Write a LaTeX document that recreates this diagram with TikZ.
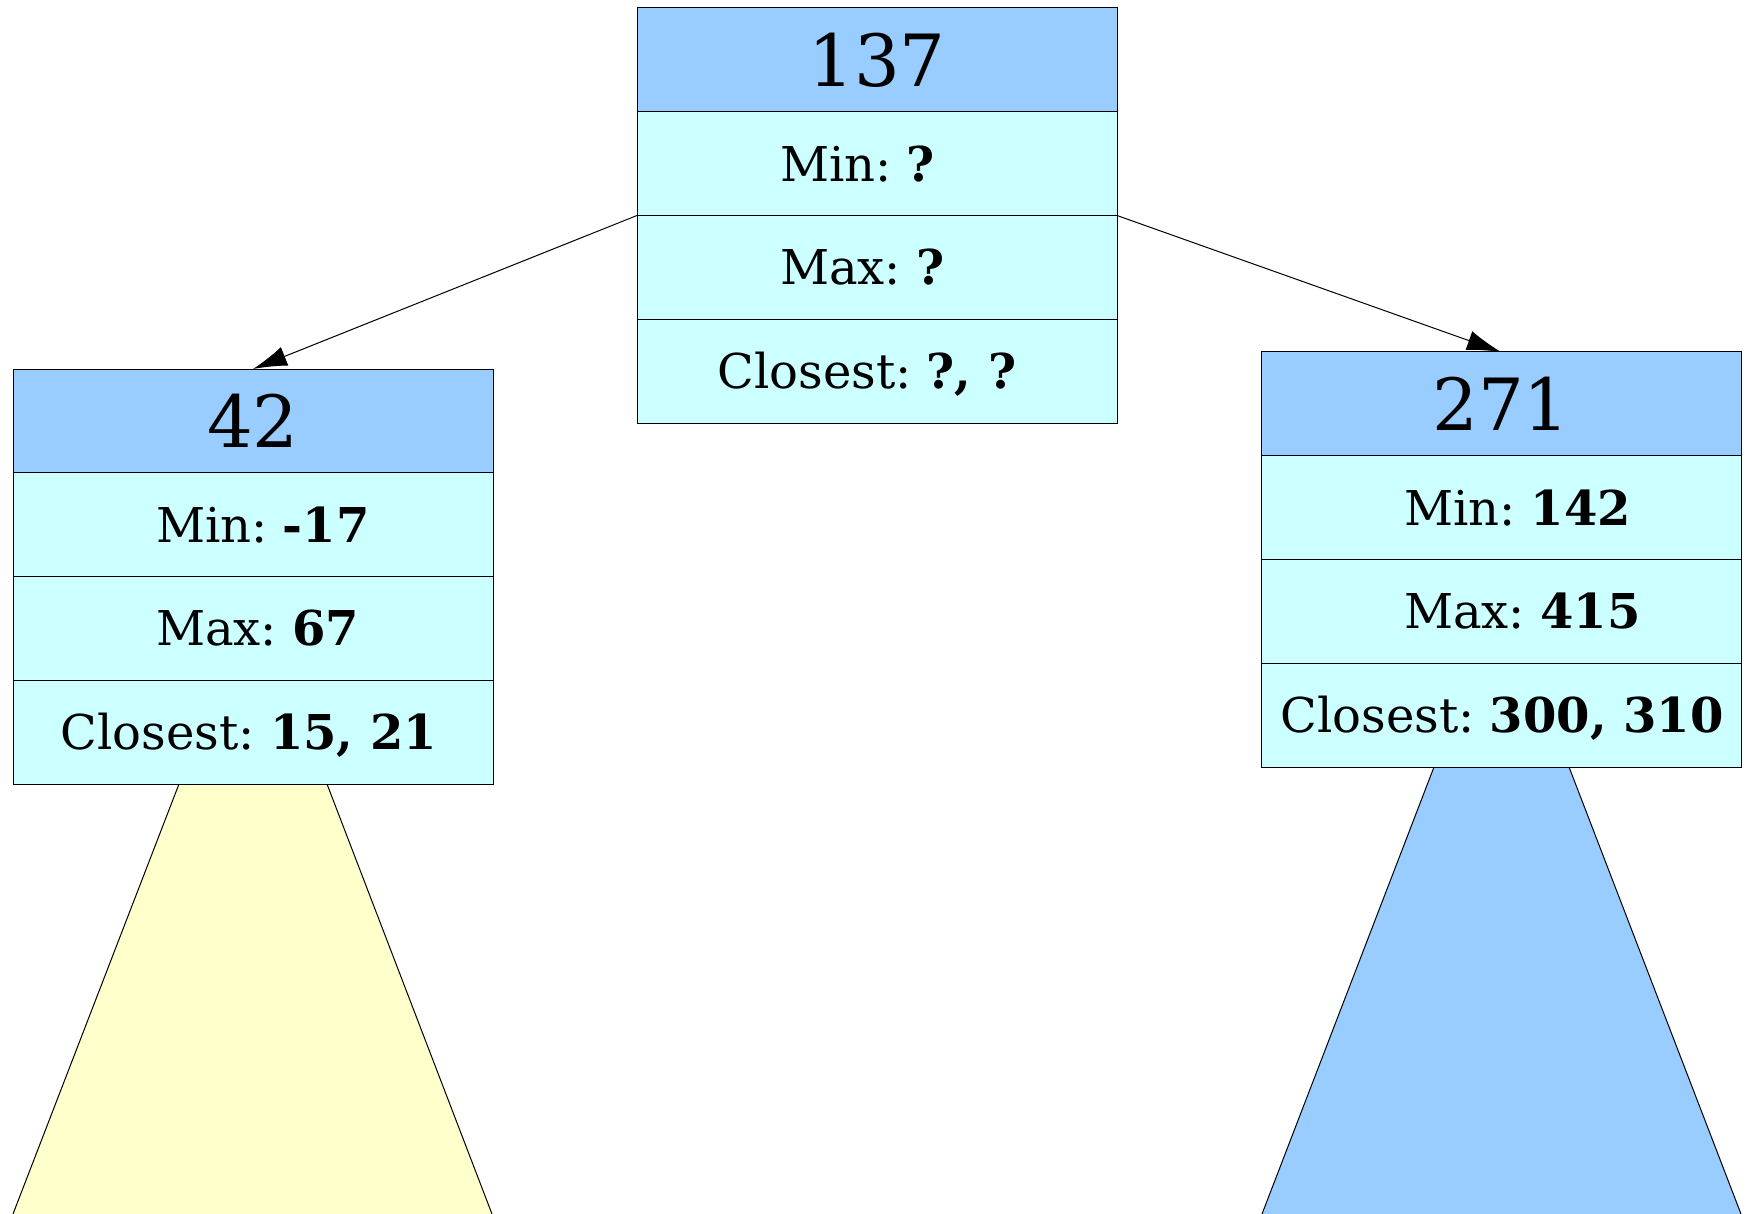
\documentclass[tikz,border=0pt]{standalone}
\usepackage{fontspec}
\setmainfont{DejaVu Serif}
\usetikzlibrary{arrows.meta}
\definecolor{headblue}{HTML}{99CCFF}
\definecolor{rowcyan}{HTML}{CCFFFF}
\definecolor{subyellow}{HTML}{FFFFCC}
\frenchspacing
\begin{document}
\begin{tikzpicture}[x=0.5pt,y=-0.5pt,
  cell/.style={draw=black, line width=0.5pt, minimum width=240pt, minimum height=51.875pt, inner sep=0pt, outer sep=0pt, anchor=north west},
  headcell/.style={cell, fill=headblue, font=\fontsize{36}{40}\selectfont},
  rowcell/.style={cell, fill=rowcyan},
  txt/.style={inner sep=0pt, outer sep=0pt, font=\fontsize{24}{28}\selectfont\frenchspacing, text height=17.5pt, text depth=0pt},
  ltxt/.style={txt, anchor=west},
  edge/.style={line width=0.5pt, -{Latex[length=17pt,width=10pt]}},
  sidestroke/.style={line width=0.5pt, draw=black}
]
\useasboundingbox (0,0) rectangle (1746,1214);

% subtrees
\fill[subyellow] (179,784) -- (327,784) -- (492,1214) -- (13,1214) -- cycle;
\draw[sidestroke] (179,784) -- (13,1214);
\draw[sidestroke] (327,784) -- (492,1214);
\fill[headblue] (1434,767) -- (1569,767) -- (1741,1214) -- (1262,1214) -- cycle;
\draw[sidestroke] (1434,767) -- (1262,1214);
\draw[sidestroke] (1569,767) -- (1741,1214);

% root
\node[headcell] (rh) at (637,8) {137};
\node[rowcell] (rmin) at (rh.south west) {};
\node[rowcell] (rmax) at (rmin.south west) {};
\node[rowcell] (rcl) at (rmax.south west) {};
\node[ltxt] (rmint) at ([xshift=71.5pt]rmin.west) {Min: \textbf{?}};
\node[ltxt] (rmaxt) at ([xshift=71.5pt]rmax.west) {Max: \textbf{?}};
\node[txt] (rclt) at ([xshift=-5pt]rcl.center) {Closest: \textbf{?, ?}};

% left
\node[headcell] (lh) at (13,369) {42};
\node[rowcell] (lmin) at (lh.south west) {};
\node[rowcell] (lmax) at (lmin.south west) {};
\node[rowcell] (lcl) at (lmax.south west) {};
\node[ltxt] (lmint) at ([xshift=71.5pt]lmin.west) {Min: \textbf{-17}};
\node[ltxt] (lmaxt) at ([xshift=71.5pt]lmax.west) {Max: \textbf{67}};
\node[txt] (lclt) at ([xshift=-2pt]lcl.center) {Closest: \textbf{15, 21}};

% right
\node[headcell] (gh) at (1261,352) {271};
\node[rowcell] (gmin) at (gh.south west) {};
\node[rowcell] (gmax) at (gmin.south west) {};
\node[rowcell] (gcl) at (gmax.south west) {};
\node[ltxt] (gmint) at ([xshift=71.5pt]gmin.west) {Min: \textbf{142}};
\node[ltxt] (gmaxt) at ([xshift=71.5pt]gmax.west) {Max: \textbf{415}};
\node[txt] (gclt) at ([xshift=0.5pt]gcl.center) {Closest: \textbf{300, 310}};

% edges
\draw[edge] (rmax.north west) -- (lh.north);
\draw[edge] (rmax.north east) -- (gh.north);
\end{tikzpicture}
\end{document}
